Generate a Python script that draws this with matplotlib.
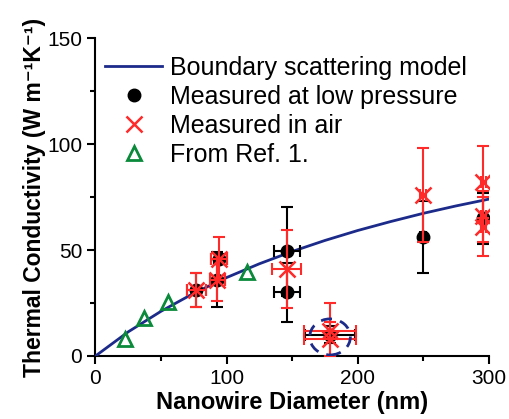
import matplotlib
matplotlib.use("Agg")
import matplotlib.pyplot as plt
from matplotlib.patches import Ellipse
from matplotlib.ticker import MultipleLocator

plt.rcParams['font.family'] = ['Liberation Sans', 'DejaVu Sans']

# boundary scattering model
model_d = [0, 25, 50, 75, 100, 125, 150, 175, 200, 225, 250, 275, 300]
model_k = [0, 11.4, 21.1, 29.6, 37, 43.5, 49.3, 54.5, 59.2, 63.4, 67.3, 70.8, 74]

# measured at low pressure
lp_d = [77, 93, 94, 146, 146, 179, 250, 296]
lp_k = [31, 36, 46, 49.5, 30, 10, 56, 65]
lp_kerr = [8, 13, 2, 21, 14, 4, 17, 12]
lp_derr = [7, 6, 6, 10, 10, 19, 2, 2]

# measured in air
air_d = [77, 93, 94, 146, 179, 179, 250, 296, 296, 296]
air_k = [31, 36, 46, 41, 12, 8, 76, 82, 66, 61]
air_kerr = [8, 10, 10, 18.5, 13, 8, 22, 17, 12, 14]
air_derr = [7, 6, 6, 11, 20, 20, 2, 2, 2, 2]

# from Ref. 1
ref_d = [22.5, 37, 55.6, 115.4]
ref_k = [8, 18, 25.6, 39.8]

navy = '#1c2a8a'
red = '#ff2a2a'
green = '#0a8a3a'

fig = plt.figure(figsize=(5.09, 4.19), dpi=100)
ax = fig.add_axes([0.1876, 0.1504, 0.7724, 0.7586])

ax.plot(model_d, model_k, color=navy, lw=2, label='Boundary scattering model', zorder=3)

ax.errorbar(lp_d, lp_k, yerr=lp_kerr, xerr=lp_derr, fmt='none', ecolor='black',
            elinewidth=1.5, capsize=4, capthick=1.5, zorder=4)
ax.plot(lp_d, lp_k, 'o', color='black', ms=9, ls='none',
        label='Measured at low pressure', zorder=5)

ax.errorbar(air_d, air_k, yerr=air_kerr, xerr=air_derr, fmt='none', ecolor=red,
            elinewidth=1.5, capsize=4, capthick=1.5, zorder=6)
ax.plot(air_d, air_k, 'x', color=red, ms=11, mew=1.8, ls='none',
        label='Measured in air', zorder=7)

ax.plot(ref_d, ref_k, '^', mfc='none', mec=green, mew=2, ms=10, ls='none',
        label='From Ref. 1.', zorder=5)

ax.add_patch(Ellipse((179, 9), 31, 17, fill=False, ec=navy, lw=2,
                     ls=(0, (4, 3)), zorder=8))

ax.set_xlim(0, 300)
ax.set_ylim(0, 150)
ax.xaxis.set_major_locator(MultipleLocator(100))
ax.xaxis.set_minor_locator(MultipleLocator(50))
ax.yaxis.set_major_locator(MultipleLocator(50))
ax.yaxis.set_minor_locator(MultipleLocator(25))
ax.spines['top'].set_visible(False)
ax.spines['right'].set_visible(False)
for s in ['left', 'bottom']:
    ax.spines[s].set_linewidth(1.5)
ax.tick_params(which='major', direction='out', length=6, width=1.5, labelsize=15)
ax.tick_params(which='minor', direction='out', length=3.5, width=1.5)

ax.set_xlabel('Nanowire Diameter (nm)', fontsize=17, fontweight='bold', labelpad=2)
ax.set_ylabel('Thermal Conductivity (W m\u207b\u00b9K\u207b\u00b9)',
              fontsize=16.5, fontweight='bold', labelpad=1)

ax.legend(loc='upper left', bbox_to_anchor=(0.024, 0.945), frameon=False,
          fontsize=18, handlelength=2.3, handletextpad=0.3, labelspacing=0.2,
          borderaxespad=0, borderpad=0)

fig.savefig('out.png', dpi=100)
